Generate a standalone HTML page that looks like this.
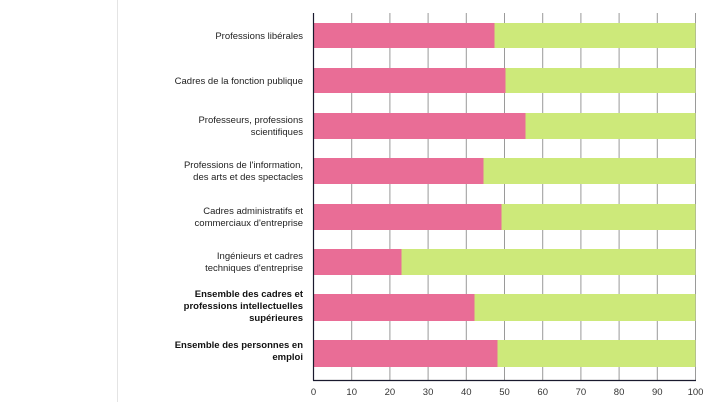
<!DOCTYPE html>
<html><head><meta charset="utf-8"><style>
html,body{margin:0;padding:0;background:#fff;}
svg{display:block;font-family:"Liberation Sans","DejaVu Sans",sans-serif;}
</style></head><body>
<svg width="714" height="402" viewBox="0 0 714 402">
<line x1="117.5" y1="0" x2="117.5" y2="402" stroke="#e4e4e4" stroke-width="1"/>
<g stroke="#9a9a9a" stroke-width="1">
<line x1="351.7" y1="13" x2="351.7" y2="380"/>
<line x1="389.9" y1="13" x2="389.9" y2="380"/>
<line x1="428.1" y1="13" x2="428.1" y2="380"/>
<line x1="466.3" y1="13" x2="466.3" y2="380"/>
<line x1="504.5" y1="13" x2="504.5" y2="380"/>
<line x1="542.7" y1="13" x2="542.7" y2="380"/>
<line x1="580.9" y1="13" x2="580.9" y2="380"/>
<line x1="619.1" y1="13" x2="619.1" y2="380"/>
<line x1="657.3" y1="13" x2="657.3" y2="380"/>
<line x1="695.5" y1="13" x2="695.5" y2="380"/>
</g>
<g>
<rect x="313.5" y="23" width="181" height="25" fill="#e96d96"/><rect x="494.5" y="23" width="201" height="25" fill="#cde97a"/>
<rect x="313.5" y="68" width="192" height="25" fill="#e96d96"/><rect x="505.5" y="68" width="190" height="25" fill="#cde97a"/>
<rect x="313.5" y="113" width="212" height="26" fill="#e96d96"/><rect x="525.5" y="113" width="170" height="26" fill="#cde97a"/>
<rect x="313.5" y="158" width="170" height="26" fill="#e96d96"/><rect x="483.5" y="158" width="212" height="26" fill="#cde97a"/>
<rect x="313.5" y="204" width="188" height="26" fill="#e96d96"/><rect x="501.5" y="204" width="194" height="26" fill="#cde97a"/>
<rect x="313.5" y="249" width="88" height="26" fill="#e96d96"/><rect x="401.5" y="249" width="294" height="26" fill="#cde97a"/>
<rect x="313.5" y="294" width="161" height="27" fill="#e96d96"/><rect x="474.5" y="294" width="221" height="27" fill="#cde97a"/>
<rect x="313.5" y="340" width="184" height="27" fill="#e96d96"/><rect x="497.5" y="340" width="198" height="27" fill="#cde97a"/>
</g>
<line x1="313.5" y1="13" x2="313.5" y2="380.5" stroke="#1a1a2e" stroke-width="1.2"/>
<line x1="313" y1="380.5" x2="696" y2="380.5" stroke="#1a1a2e" stroke-width="1.2"/>
<g font-size="9.5" fill="#333" text-anchor="middle">
<text x="313.5" y="395">0</text><text x="351.7" y="395">10</text><text x="389.9" y="395">20</text><text x="428.1" y="395">30</text><text x="466.3" y="395">40</text><text x="504.5" y="395">50</text><text x="542.7" y="395">60</text><text x="580.9" y="395">70</text><text x="619.1" y="395">80</text><text x="657.3" y="395">90</text><text x="695.5" y="395">100</text>
</g>
<g font-size="9.5" fill="#222" text-anchor="end">
<text x="303" y="39">Professions libérales</text>
<text x="303" y="84">Cadres de la fonction publique</text>
<text x="303" y="123">Professeurs, professions</text><text x="303" y="135">scientifiques</text>
<text x="303" y="168">Professions de l'information,</text><text x="303" y="180">des arts et des spectacles</text>
<text x="303" y="214">Cadres administratifs et</text><text x="303" y="226">commerciaux d'entreprise</text>
<text x="303" y="259">Ingénieurs et cadres</text><text x="303" y="271">techniques d'entreprise</text>
<g font-weight="bold" fill="#111">
<text x="303" y="297">Ensemble des cadres et</text><text x="303" y="309">professions intellectuelles</text><text x="303" y="321">supérieures</text>
<text x="303" y="348">Ensemble des personnes en</text><text x="303" y="360">emploi</text>
</g>
</g>
</svg>
</body></html>
